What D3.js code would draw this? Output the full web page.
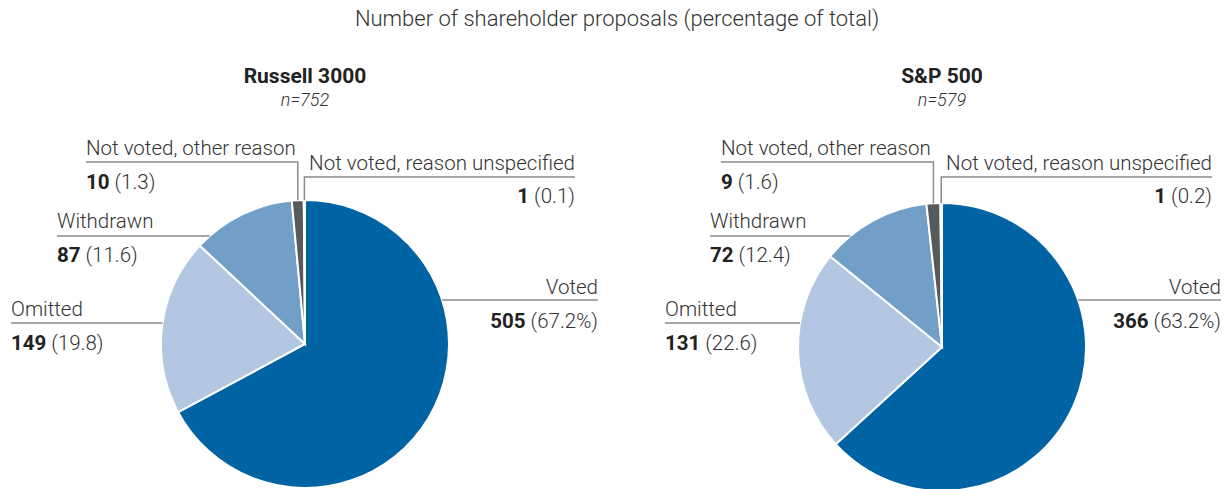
<!DOCTYPE html>
<html>
<head>
<meta charset="utf-8">
<script src="https://cdn.jsdelivr.net/npm/d3@7"></script>
<style>
  body { margin: 0; background: #fff; }
  svg text { font-family: Roboto, "Liberation Sans Narrow", sans-serif; fill: #333; }
</style>
</head>
<body>
<main></main>
<script>
const width = 1227;
const height = 489;
const radius = 144;

// data
const categories = ['Voted', 'Omitted', 'Withdrawn', 'Not voted, other reason', 'Not voted, reason unspecified'];
const russellCounts = [505, 149, 87, 10, 1];
const russellPct = [67.2, 19.8, 11.6, 1.3, 0.1];
const spCounts = [366, 131, 72, 9, 1];
const spPct = [63.2, 22.6, 12.4, 1.6, 0.2];
const colors = ['#0064a4', '#b3c7e2', '#719fc8', '#58595b', '#d9d9d9'];

// label layout: name baseline y and leader line y are shared, x differs per pie
const labelY = [294, 316, 228, 155, 170];
const lineY = [300, 323, 236, 162, 177];
const valueY = [328, 350, 262, 189, 203];
const anchors = ['end', 'start', 'start', 'start', 'end'];

const panels = [
    { title: 'Russell 3000', n: 'n=752', cx: 305, cy: 344, counts: russellCounts, pct: russellPct,
      labelX: [598, 11, 57, 86, 575] },
    { title: 'S&P 500', n: 'n=579', cx: 942, cy: 347, counts: spCounts, pct: spPct,
      labelX: [1221, 665, 710, 721, 1212] }
];

const svg = d3.select('main')
              .append('svg')
              .attr('width', width)
              .attr('height', height);

svg.append('text')
   .attr('x', 617)
   .attr('y', 26)
   .attr('text-anchor', 'middle')
   .style('font-size', '22px')
   .style('font-weight', 300)
   .text('Number of shareholder proposals (percentage of total)');

const pie = d3.pie().sort(null).value(d => d);
const arc = d3.arc().innerRadius(0).outerRadius(radius);

const drawPanel = (p) => {
    svg.append('text')
       .attr('x', p.cx)
       .attr('y', 83)
       .attr('text-anchor', 'middle')
       .style('font-size', '21px')
       .style('font-weight', 700)
       .style('fill', '#222')
       .text(p.title);

    svg.append('text')
       .attr('x', p.cx)
       .attr('y', 106)
       .attr('text-anchor', 'middle')
       .style('font-size', '18px')
       .style('font-style', 'italic')
       .style('font-weight', 300)
       .text(p.n);

    const g = svg.append('g').attr('transform', `translate(${p.cx},${p.cy})`);
    const arcs = pie(p.counts);

    g.selectAll('path')
     .data(arcs)
     .enter()
     .append('path')
     .attr('d', arc)
     .attr('fill', (d, i) => colors[i])
     .attr('stroke', '#fff')
     .attr('stroke-width', 2);

    // leader lines + labels
    arcs.forEach((d, i) => {
        const ly = lineY[i] - p.cy;
        const tx = p.labelX[i] - p.cx;
        let pts;
        if (i >= 3) {
            // small slices: vertical drop from the line to the slice
            const mid = (d.startAngle + d.endAngle) / 2;
            const mx = radius * Math.sin(mid);
            const my = -radius * Math.cos(mid);
            pts = [[tx, ly], [mx, ly], [mx, my]];
        } else {
            const dx = Math.sqrt(radius * radius - ly * ly);
            const ex = anchors[i] === 'end' ? dx : -dx;
            pts = [[tx, ly], [ex, ly]];
        }
        g.append('path')
         .attr('d', d3.line()(pts))
         .attr('fill', 'none')
         .attr('stroke', '#8a8a8a')
         .attr('stroke-width', 1.5);

        svg.append('text')
           .attr('x', p.labelX[i])
           .attr('y', labelY[i])
           .attr('text-anchor', anchors[i])
           .style('font-size', '20.5px')
           .style('font-weight', 300)
           .text(categories[i]);

        const v = svg.append('text')
           .attr('x', p.labelX[i])
           .attr('y', valueY[i])
           .attr('text-anchor', anchors[i])
           .style('font-size', '20.5px');
        v.append('tspan').style('font-weight', 700).style('fill', '#222').text(p.counts[i]);
        v.append('tspan').style('font-weight', 300)
         .text(' (' + p.pct[i].toFixed(1) + (i === 0 ? '%)' : ')'));
    });
};

panels.forEach(drawPanel);
</script>
</body>
</html>
